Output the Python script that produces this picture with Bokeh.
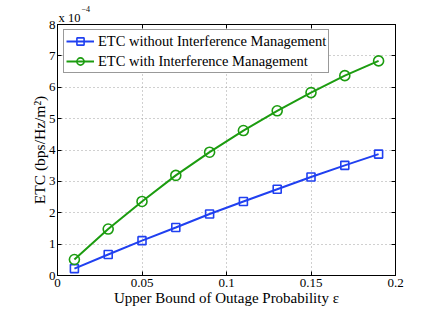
from bokeh.plotting import figure
from bokeh.models import LinearAxis, FixedTicker, Legend, LegendItem, Range1d, Title
from bokeh.embed import file_html
from bokeh.resources import INLINE

# data (ETC in units of 1e-4 bps/Hz/m^2)
eps = [0.01, 0.03, 0.05, 0.07, 0.09, 0.11, 0.13, 0.15, 0.17, 0.19]
etc_without = [0.22, 0.67, 1.11, 1.53, 1.96, 2.36, 2.75, 3.14, 3.51, 3.87]
etc_with = [0.51, 1.48, 2.36, 3.19, 3.93, 4.62, 5.25, 5.83, 6.37, 6.84]
x_ticks = [0, 0.05, 0.1, 0.15, 0.2]
x_tick_labels = ["0", "0.05", "0.1", "0.15", "0.2"]
y_ticks = [0, 1, 2, 3, 4, 5, 6, 7, 8]

BLUE = "#2040f0"
GREEN = "#1c9c10"
FONT = "Liberation Serif"

p = figure(width=436, height=310, output_backend="svg", toolbar_location=None,
           title=None,
           x_range=Range1d(0, 0.2), y_range=Range1d(0, 8),
           min_border_left=57, min_border_right=41, min_border_top=24, min_border_bottom=35)
p.outline_line_color = "black"
p.outline_line_width = 1
p.background_fill_color = "white"
p.border_fill_color = "white"

def style_axis(ax, labels=True):
    ax.major_tick_in = 4
    ax.major_tick_out = 0
    ax.minor_tick_line_color = None
    ax.axis_line_color = "black"
    ax.major_tick_line_color = "black"
    ax.major_label_text_font = FONT
    ax.major_label_text_font_size = "13px"
    ax.major_label_text_color = "black"
    ax.axis_label_text_font = FONT
    ax.axis_label_text_font_style = "normal"
    ax.axis_label_text_font_size = "15px"
    ax.axis_label_text_color = "black"
    if not labels:
        ax.major_label_text_font_size = "0px"
        ax.major_label_text_color = None
        ax.major_label_standoff = 0

p.xaxis.ticker = FixedTicker(ticks=x_ticks)
p.xaxis.major_label_overrides = {t: l for t, l in zip(x_ticks, x_tick_labels)}
p.yaxis.ticker = FixedTicker(ticks=y_ticks)
style_axis(p.xaxis[0])
style_axis(p.yaxis[0])
p.xaxis.axis_label = "Upper Bound of Outage Probability ε"
p.yaxis.axis_label = "ETC (bps/Hz/m²)"
p.yaxis.axis_label_text_font_size = "15.5px"
p.xaxis.major_label_standoff = 3
p.xaxis.axis_label_standoff = 0
p.yaxis.major_label_standoff = 2
p.yaxis.axis_label_standoff = -2

ax_r = LinearAxis(ticker=FixedTicker(ticks=y_ticks))
style_axis(ax_r, labels=False)
p.add_layout(ax_r, "right")
ax_t = LinearAxis(ticker=FixedTicker(ticks=x_ticks))
style_axis(ax_t, labels=False)
p.add_layout(ax_t, "above")

# axis multiplier "x 10^-4" as two stacked titles
p.add_layout(Title(text="x 10", align="left", offset=1, standoff=0,
                   text_font=FONT, text_font_size="12.5px", text_font_style="normal",
                   text_color="black"), "above")
p.add_layout(Title(text="−4", align="left", offset=24, standoff=-6,
                   text_font=FONT, text_font_size="8px", text_font_style="normal",
                   text_color="black"), "above")

p.xgrid.ticker = FixedTicker(ticks=x_ticks)
p.ygrid.ticker = FixedTicker(ticks=y_ticks)
for g in (p.xgrid[0], p.ygrid[0]):
    g.grid_line_color = "#a0a0a0"
    g.grid_line_dash = "1 3"
    g.grid_line_width = 1

l1 = p.line(eps, etc_without, line_color=BLUE, line_width=2)
m1 = p.scatter(eps, etc_without, marker="square", size=8, line_color=BLUE,
               fill_color=None, line_width=1.6)
l2 = p.line(eps, etc_with, line_color=GREEN, line_width=2)
m2 = p.scatter(eps, etc_with, marker="circle", size=10, line_color=GREEN,
               fill_color=None, line_width=1.6)

legend = Legend(items=[
    LegendItem(label="ETC without Interference Management", renderers=[l1, m1]),
    LegendItem(label="ETC with Interference Management", renderers=[l2, m2]),
], location=(6, 202))
legend.label_text_font = FONT
legend.label_text_font_size = "14.5px"
legend.label_text_color = "black"
legend.glyph_width = 28
legend.glyph_height = 18
legend.label_height = 18
legend.label_standoff = 4
legend.spacing = 2
legend.padding = 2
legend.margin = 0
legend.border_line_color = "#333333"
legend.border_line_width = 1
legend.background_fill_alpha = 1
p.add_layout(legend, "center")

open("out.html", "w").write(file_html(p, INLINE))
